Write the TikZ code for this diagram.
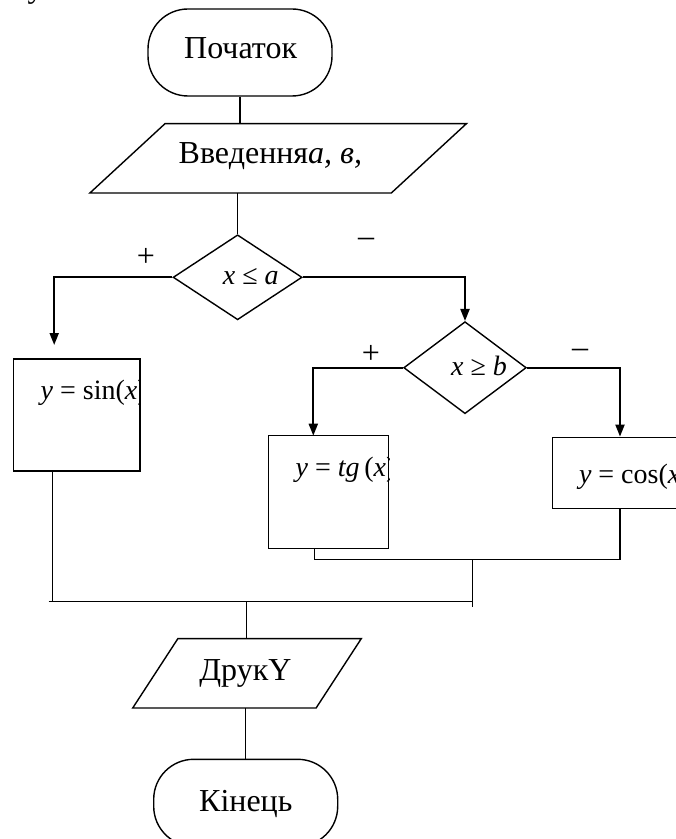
\documentclass[tikz,border=0pt]{standalone}
\usepackage{fontspec}
\setmainfont{Liberation Serif}
\usetikzlibrary{shapes.geometric,arrows.meta}

\begin{document}
\begin{tikzpicture}[
    x=0.5pt, y=-0.5pt,
    line width=0.7pt,
    term/.style={rectangle, draw=black, rounded corners=20pt, minimum width=92pt, minimum height=43.5pt},
    io/.style={rectangle, inner sep=0pt, minimum height=34pt},
    cond/.style={diamond, draw=black, inner sep=0pt},
    proc/.style={rectangle, draw=black, inner sep=0pt},
    lbl/.style={anchor=base, font=\fontsize{16}{19}\selectfont, inner sep=0pt},
    frm/.style={anchor=base west, font=\fontsize{14}{17}\selectfont, inner sep=0pt},
    sgn/.style={font=\fontsize{16}{19}\selectfont, inner sep=0pt},
    arrow/.style={-{Triangle[length=6pt,width=4.5pt]}, line width=1pt}
]
\useasboundingbox (0,0) rectangle (675,839);

% shapes
\node[term] (start) at (240,52.5){};
\node[io, minimum width=150pt] (in) at (278.2,158.3){};
\draw ([xshift=18.8pt]in.north west) -- ([xshift=18.8pt]in.north east)
   -- ([xshift=-18.8pt]in.south east) -- ([xshift=-18.8pt]in.south west) -- cycle;
\node[cond, minimum width=64.5pt, minimum height=42.5pt] (d1) at (237.6,277.3){};
\node[cond, minimum width=61.3pt, minimum height=46pt] (d2) at (465,367.7){};
\node[proc, minimum width=63.3pt, minimum height=56pt] (sin) at (76.7,415){};
\node[proc, minimum width=60pt, minimum height=56.5pt] (tg) at (328.3,492.2){};
\node[proc, minimum width=67.7pt, minimum height=35.5pt] (cos) at (620,472.8){};
\node[io, minimum width=91pt] (out) at (247,673.3){};
\draw ([xshift=11.3pt]out.north west) -- ([xshift=11.3pt]out.north east)
   -- ([xshift=-11.3pt]out.south east) -- ([xshift=-11.3pt]out.south west) -- cycle;
\node[term] (end) at (245.7,802.8){};

% texts
\node[lbl, anchor=base west] (frag) at (27,-2) {у};
\node[lbl] (tstart) at (240.6,59) {Початок};
\node[lbl] (tin) at (270.4,163.3) {Введення\textit{a, в,}};
\node[lbl, font=\fontsize{14}{17}\selectfont] (td1) at (250.8,285) {\textit{x} ≤ \textit{a}};
\node[lbl, font=\fontsize{14}{17}\selectfont] (td2) at (479,375) {\textit{x} ≥ \textit{b}};
\begin{scope}
\clip (sin.south west) rectangle (sin.north east);
\node[frm] (tsin) at (40,399.3) {\textit{y} = sin(\textit{x})};
\end{scope}
\begin{scope}
\clip (tg.south west) rectangle (tg.north east);
\node[frm] (ttg) at (295,476.7) {\textit{y} = \textit{tg}\,(\textit{x})};
\end{scope}
\node[frm] (tcos) at (578.3,483.3) {\textit{y} = cos(\textit{x})};
\node[lbl] (tout) at (245.4,680) {ДрукY};
\node[lbl] (tend) at (245.8,811.7) {Кінець};

\node[sgn] (p1) at (146,257) {+};
\node[sgn] (m1) at (366,242) {–};
\node[sgn] (p2) at (371,354) {+};
\node[sgn] (m2) at (580,353) {–};

% connectors
\coordinate (sinin) at (54.2,345);
\coordinate (sinout) at (52.5,471);
\coordinate (tgin) at (313.3,435.7);
\coordinate (tgout) at (314.3,548.7);
\coordinate (tgbus) at (472.2,559.3);
\coordinate (busl) at (48.6,601.7);
\coordinate (busr) at (472.2,601.7);
\coordinate (busm) at (246.2,601.7);

\draw (start.south) -- (start.south |- in.north);
\draw (d1.north |- in.south) -- (d1.north);
\draw[arrow] (d1.west) -| (sinin);
\draw[arrow] (d1.east) -| (d2.north);
\draw[arrow] (d2.west) -| (tgin);
\draw[arrow] (d2.east) -| (cos.north);
\draw (tgout) |- (tgbus) -| (cos.south);
\draw (tgbus) -- ([yshift=-2.5pt]busr);
\draw (sinout) -- (sinout |- busl);
\draw (busl) -- (busr);
\draw (busm) -- (busm |- out.north);
\draw (end.north |- out.south) -- (end.north);

\end{tikzpicture}
\end{document}
